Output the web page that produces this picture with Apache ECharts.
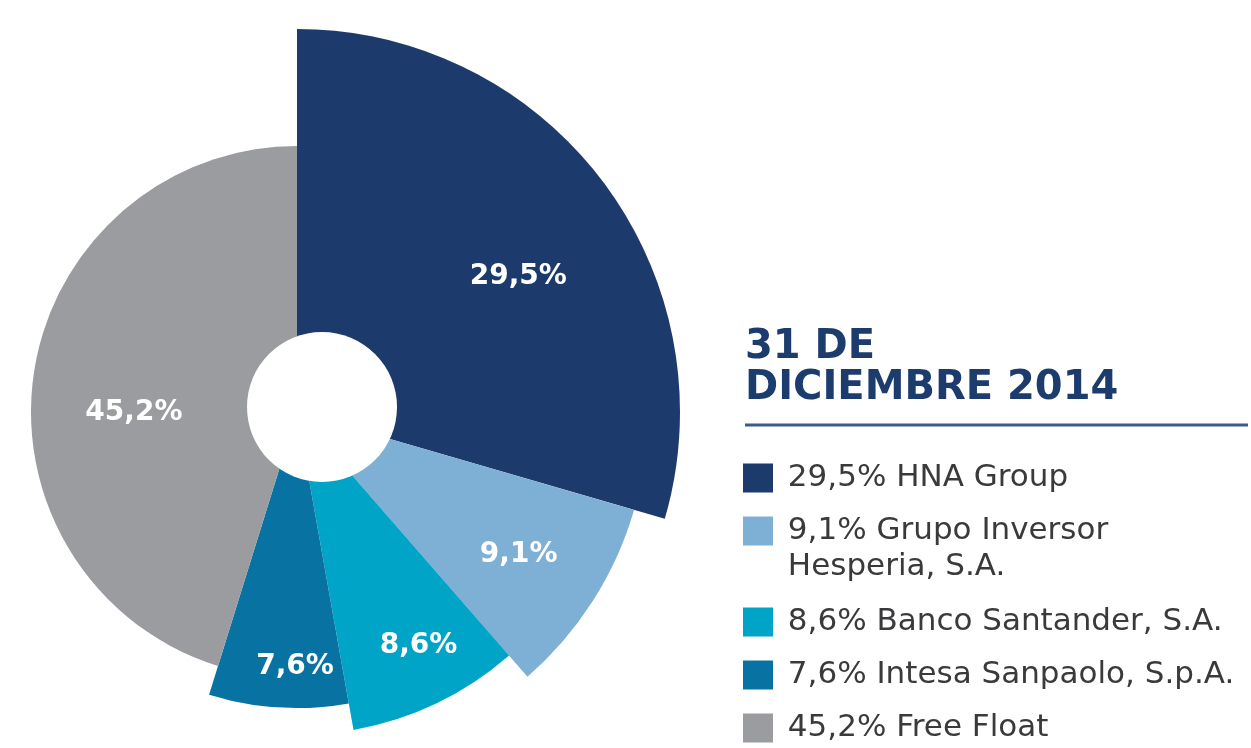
<!DOCTYPE html>
<html>
<head>
<meta charset="utf-8" />
<title>Accionistas 2014</title>
<script src="https://cdn.jsdelivr.net/npm/echarts@6/dist/echarts.min.js"></script>
<style>
	* { margin: 0; padding: 0; }
	html, body { width: 100%; height: 100%; background: #fff; }
	#main { width: 1251px; height: 748px; }
</style>
</head>
<body>
<div id="main"></div>
<script>
// shareholders, clockwise from 12 o'clock
var names = ['HNA Group', 'Grupo Inversor Hesperia, S.A.', 'Banco Santander, S.A.', 'Intesa Sanpaolo, S.p.A.', 'Free Float'];
var shares = [29.5, 9.1, 8.6, 7.6, 45.2];
var legendNames = ['HNA Group', 'Grupo Inversor\nHesperia, S.A.', 'Banco Santander, S.A.', 'Intesa Sanpaolo, S.p.A.', 'Free Float'];
var colors = ['#1c3b6c', '#7eafd5', '#00a4c7', '#0873a2', '#9b9ca0'];
// each slice has its own outer radius (px)
var outerRadius = [383, 351, 323, 296, 266];
var labelRadius = [260, 260, 260, 252, 163];
// small hand nudges so the labels sit where the original has them
var labelNudge = [[11, 23], [0, 1], [8, -4], [14, 0], [1, 26]];

var center = [297, 412];
var font = '"DejaVu Sans", sans-serif';

function fmt(v) {
	return v.toFixed(1).replace('.', ',') + '%';
}

var series = [];
// one pie per slice so every slice gets its own radius
names.forEach(function(n, i) {
	series.push({
		type: 'pie',
		center: center,
		radius: [0, outerRadius[i]],
		startAngle: 90,
		clockwise: true,
		silent: true,
		label: { show: false },
		labelLine: { show: false },
		emphasis: { disabled: true },
		data: names.map(function(m, j) {
			return {
				name: m,
				value: shares[j],
				itemStyle: { color: j === i ? colors[j] : 'rgba(0,0,0,0)' }
			};
		})
	});
});
// invisible pies that only carry the percentage labels
names.forEach(function(n, i) {
	series.push({
		type: 'pie',
		center: center,
		radius: [0, labelRadius[i] * 2],
		startAngle: 90,
		clockwise: true,
		silent: true,
		z: 5,
		labelLine: { show: false },
		emphasis: { disabled: true },
		labelLayout: { dx: labelNudge[i][0], dy: labelNudge[i][1] },
		data: names.map(function(m, j) {
			return {
				name: m,
				value: shares[j],
				itemStyle: { color: 'rgba(0,0,0,0)' },
				label: {
					show: j === i,
					position: 'inside',
					formatter: fmt(shares[j]),
					color: '#fff',
					fontFamily: font,
					fontWeight: 'bold',
					fontSize: 28
				}
			};
		})
	});
});

function legendItem(i) {
	return { name: names[i], itemStyle: { color: colors[i] } };
}
function legendText(name) {
	var i = names.indexOf(name);
	var lines = (fmt(shares[i]) + ' ' + legendNames[i]).split('\n');
	return lines.map(function(l) { return ' ' + l; }).join('\n');
}
var legendBase = {
	orient: 'vertical',
	left: 743,
	padding: 0,
	itemWidth: 30,
	itemHeight: 29,
	itemGap: 17,
	icon: 'rect',
	selectedMode: false,
	textStyle: { fontFamily: font, fontSize: 31, color: '#3a3a3c', lineHeight: 36 },
	formatter: legendText
};
var legendHna = Object.assign({}, legendBase, { top: 460, data: [legendItem(0)] });
// blank first line keeps the first text line level with the swatch
var legendGrupo = Object.assign({}, legendBase, {
	top: 477,
	data: [legendItem(1)],
	formatter: function(name) { return ' \n' + legendText(name); }
});
var legendRest = Object.assign({}, legendBase, { top: 604, data: [legendItem(2), legendItem(3), legendItem(4)] });

var myChart = echarts.init(document.getElementById('main'));
myChart.setOption({
	animation: false,
	title: {
		text: '31 DE\nDICIEMBRE 2014',
		left: 745,
		top: 327,
		padding: 0,
		textStyle: { fontFamily: font, fontWeight: 'bold', fontSize: 40, lineHeight: 41, color: '#1d3c6e' }
	},
	legend: [legendHna, legendGrupo, legendRest],
	graphic: [
		{ type: 'circle', shape: { cx: 322, cy: 407, r: 75 }, style: { fill: '#fff' }, z: 10, silent: true },
		{ type: 'line', shape: { x1: 745, y1: 425, x2: 1248, y2: 425 }, style: { stroke: '#3b5b8e', lineWidth: 3 }, silent: true }
	],
	series: series
});
</script>
</body>
</html>
